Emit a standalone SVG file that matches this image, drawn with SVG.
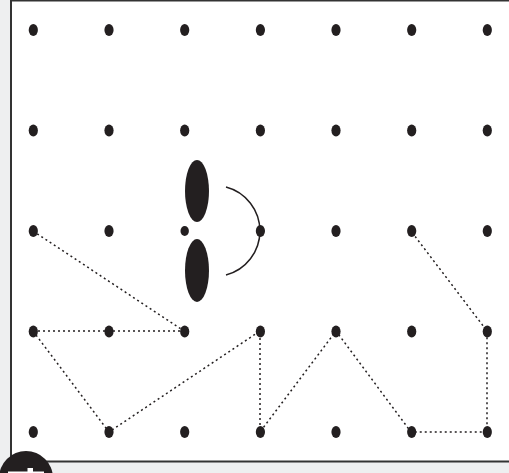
<svg xmlns="http://www.w3.org/2000/svg" width="509" height="473" viewBox="0 0 509 473">
<style>
.dot{fill:#231f20}
.link{fill:none;stroke:#231f20;stroke-width:1.5;stroke-dasharray:2 3}
.lobe{fill:#231f20}
.arc{fill:none;stroke:#231f20;stroke-width:1.5}
</style>
<rect x="0" y="0" width="509" height="473" fill="#eeeff0"/>
<rect x="11" y="0.5" width="510" height="461" fill="#ffffff" stroke="#333333" stroke-width="2"/>
<g id="connectors">
<path class="link" d="M33,231 L184,331"/>
<path class="link" d="M33,331 L184,331"/>
<path class="link" d="M33,331 L109,432 L260,331 L260,432 L336,331 L411,432 L487,432 L487,331 L411,231"/>
</g>
<g id="orbital">
<ellipse class="lobe" cx="197" cy="191" rx="12" ry="31"/>
<ellipse class="lobe" cx="197" cy="270.5" rx="12" ry="31.5"/>
<path class="arc" d="M226,187 A45.5,45.5 0 0 1 226,275"/>
</g>
<g id="grid">
<g id="r1">
<ellipse class="dot" cx="33.3" cy="30" rx="4.6" ry="6"/><ellipse class="dot" cx="109" cy="30" rx="4.6" ry="6"/><ellipse class="dot" cx="184.7" cy="30" rx="4.6" ry="6"/><ellipse class="dot" cx="260.4" cy="30" rx="4.6" ry="6"/><ellipse class="dot" cx="336" cy="30" rx="4.6" ry="6"/><ellipse class="dot" cx="411.7" cy="30" rx="4.6" ry="6"/><ellipse class="dot" cx="487.3" cy="30" rx="4.6" ry="6"/>
</g>
<g id="r2">
<ellipse class="dot" cx="33.3" cy="130.5" rx="4.6" ry="6"/><ellipse class="dot" cx="109" cy="130.5" rx="4.6" ry="6"/><ellipse class="dot" cx="184.7" cy="130.5" rx="4.6" ry="6"/><ellipse class="dot" cx="260.4" cy="130.5" rx="4.6" ry="6"/><ellipse class="dot" cx="336" cy="130.5" rx="4.6" ry="6"/><ellipse class="dot" cx="411.7" cy="130.5" rx="4.6" ry="6"/><ellipse class="dot" cx="487.3" cy="130.5" rx="4.6" ry="6"/>
</g>
<g id="r3">
<ellipse class="dot" cx="33.3" cy="231" rx="4.6" ry="6"/><ellipse class="dot" cx="109" cy="231" rx="4.6" ry="6"/><ellipse class="dot" cx="184.7" cy="231" rx="4.2" ry="5"/><ellipse class="dot" cx="260.4" cy="231" rx="4.6" ry="6"/><ellipse class="dot" cx="336" cy="231" rx="4.6" ry="6"/><ellipse class="dot" cx="411.7" cy="231" rx="4.6" ry="6"/><ellipse class="dot" cx="487.3" cy="231" rx="4.6" ry="6"/>
</g>
<g id="r4">
<ellipse class="dot" cx="33.3" cy="331.5" rx="4.6" ry="6"/><ellipse class="dot" cx="109" cy="331.5" rx="4.6" ry="6"/><ellipse class="dot" cx="184.7" cy="331.5" rx="4.6" ry="6"/><ellipse class="dot" cx="260.4" cy="331.5" rx="4.6" ry="6"/><ellipse class="dot" cx="336" cy="331.5" rx="4.6" ry="6"/><ellipse class="dot" cx="411.7" cy="331.5" rx="4.6" ry="6"/><ellipse class="dot" cx="487.3" cy="331.5" rx="4.6" ry="6"/>
</g>
<g id="r5">
<ellipse class="dot" cx="33.3" cy="432" rx="4.6" ry="6"/><ellipse class="dot" cx="109" cy="432" rx="4.6" ry="6"/><ellipse class="dot" cx="184.7" cy="432" rx="4.6" ry="6"/><ellipse class="dot" cx="260.4" cy="432" rx="4.6" ry="6"/><ellipse class="dot" cx="336" cy="432" rx="4.6" ry="6"/><ellipse class="dot" cx="411.7" cy="432" rx="4.6" ry="6"/><ellipse class="dot" cx="487.3" cy="432" rx="4.6" ry="6"/>
</g>
</g>
<g id="icon">
<circle cx="26" cy="478" r="27" fill="#231f20"/>
<rect x="27.5" y="468" width="5.5" height="12" fill="#ffffff"/>
<rect x="8" y="471.5" width="36" height="5" fill="#ffffff"/>
</g>
</svg>
